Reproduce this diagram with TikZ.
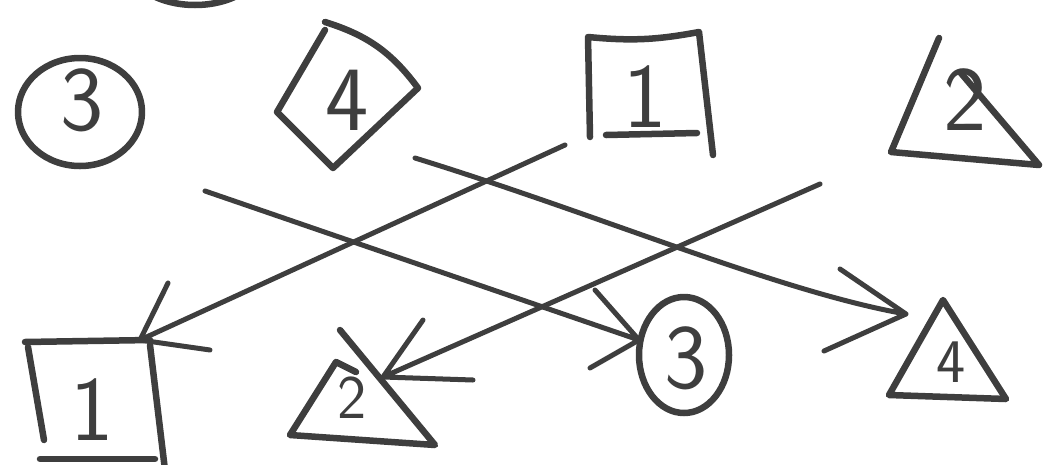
\documentclass[tikz,border=0pt]{standalone}
\usepackage{fontspec}
\begin{document}
\begin{tikzpicture}[x=1pt,y=-1pt,
  ink/.style={draw=inkc,line width=6.5pt,line cap=round,line join=round},
  pen/.style={draw=inkc,line width=5pt,line cap=round,line join=round},
  digit/.style={text=inkc,font=\fontsize{92}{92}\selectfont\sffamily,inner sep=0pt},
  smalldigit/.style={text=inkc,font=\fontsize{62}{62}\selectfont\sffamily,inner sep=0pt}]
\definecolor{inkc}{RGB}{62,62,62}
\useasboundingbox (0,0) rectangle (1052,464);
\clip (0,0) rectangle (1052,464);
% partial ellipse at the top edge
\draw[ink] (195,-38) ellipse [x radius=68, y radius=43];
% ---- top row ----
\draw[ink] (80,112) ellipse [x radius=62, y radius=54];
\node[digit] (t3) at (82,100) {3};
\draw[ink] (325,22) to[bend left=18] (418,88) -- (333,168) -- (277,112) -- (325,30);
\node[digit] (t4) at (347,100) {4};
\draw[ink] (590,137) -- (588,37) to[bend right=8] (699,32) -- (713,155);
\draw[ink] (606,135) -- (697,133);
\node[digit] (t1) at (645,97) {1};
\draw[ink] (939,38) -- (891,152) -- (1039,165) -- (960,72);
\node[digit] (t2) at (965,100) {2};
% ---- bottom row ----
\draw[ink] (25,342) -- (150,340);
\draw[ink] (28,347) -- (44,440);
\draw[ink] (150,345) -- (165,470);
\draw[ink] (40,459) -- (155,459);
\node[digit] (b1) at (92,410) {1};
\draw[ink] (340,330) -- (435,445) -- (290,435) -- (336,362) -- (356,372);
\node[smalldigit] (b2) at (352,398) {2};
\draw[ink] (684,355) ellipse [x radius=45, y radius=58];
\node[digit] (b3) at (686,358) {3};
\draw[ink] (943,300) -- (889,395) -- (1006,399) -- cycle;
\node[smalldigit] (b4) at (951,362) {4};
% ---- connectors ----
\coordinate (s1) at (565,145); \coordinate (e1) at (140,340);
\coordinate (a1) at (168,283); \coordinate (c1) at (210,350);
\draw[pen] (s1) -- (e1) -- (a1) (e1) -- (c1);
\coordinate (s2) at (820,184); \coordinate (e2) at (383,377);
\coordinate (a2) at (423,320); \coordinate (c2) at (473,380);
\draw[pen] (s2) -- (e2) -- (a2) (e2) -- (c2);
\coordinate (s3) at (205,191); \coordinate (e3) at (639,340);
\coordinate (a3) at (595,290); \coordinate (c3) at (590,368);
\draw[pen] (s3) -- (e3) -- (a3) (e3) -- (c3);
\coordinate (s4) at (415,158); \coordinate (e4) at (906,314);
\coordinate (a4) at (840,269); \coordinate (c4) at (824,351);
\draw[pen] (s4) .. controls (600,215) and (780,292) .. (e4) -- (a4) (e4) -- (c4);
\end{tikzpicture}
\end{document}
